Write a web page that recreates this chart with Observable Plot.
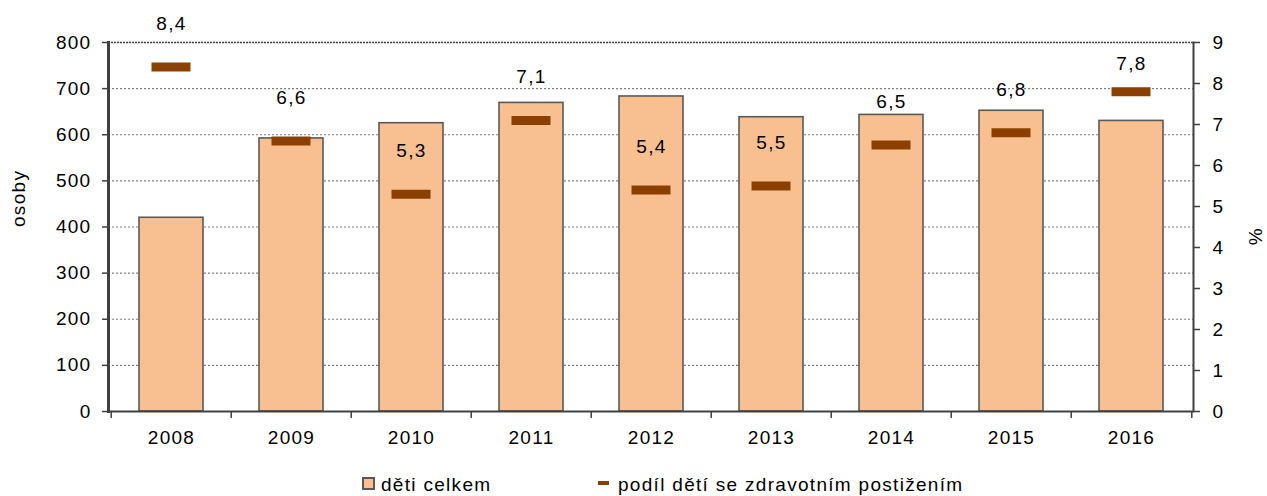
<!DOCTYPE html>
<html>
<head>
<meta charset="utf-8">
<script src="https://cdn.jsdelivr.net/npm/d3@7"></script>
<script src="https://cdn.jsdelivr.net/npm/@observablehq/plot@0.6"></script>
<style>
  html, body { margin: 0; padding: 0; background: #fff; }
  #wrap { position: relative; width: 1267px; height: 496px; font-family: "Liberation Sans", Arial, sans-serif; }
  #legend { position: absolute; left: 0; top: 474px; width: 1267px; height: 22px; font-size: 19px; color: #000; }
  .li { position: absolute; top: 0; white-space: nowrap; letter-spacing: 1.3px; }
  .sw { display: inline-block; width: 9px; height: 9px; background: #f8c090; border: 2px solid #595959; vertical-align: middle; margin-right: 6px; position: relative; top: -2px; }
  .dash { display: inline-block; width: 11px; height: 4px; background: #8b4000; vertical-align: middle; margin-right: 9px; position: relative; top: -3px; }
  svg text { letter-spacing: 1.3px; }
</style>
</head>
<body>
<div id="wrap">
  <div id="chart"></div>
  <div id="legend">
    <div class="li" style="left:362px"><span class="sw"></span>děti celkem</div>
    <div class="li" style="left:598px"><span class="dash"></span>podíl dětí se zdravotním postižením</div>
  </div>
</div>
<script>
const years = ["2008","2009","2010","2011","2012","2013","2014","2015","2016"];
const children = [420, 592, 625, 669, 683, 638, 643, 652, 630];
const sharePct = [8.4, 6.6, 5.3, 7.1, 5.4, 5.5, 6.5, 6.8, 7.8];
const leftTicks = [0,100,200,300,400,500,600,700,800];
const rightTicks = [0,1,2,3,4,5,6,7,8,9];
const leftMax = 800, rightMax = 9;

const toLeft = v => v * leftMax / rightMax;
const data = years.map((y, i) => ({year: y, total: children[i], pct: sharePct[i], pctY: toLeft(sharePct[i])}));
const lastYear = years[years.length - 1];
const fmt = d => d.pct.toFixed(1).replace(".", ",");

const W = 1267, ML = 108, MR = 74;
const step = (W - ML - MR) / years.length;
const font = "Liberation Sans, Arial, sans-serif";
const chart = Plot.plot({
  width: W,
  height: 466,
  marginLeft: ML,
  marginRight: MR,
  marginTop: 42,
  marginBottom: 55,
  style: {fontFamily: font, fontSize: "19px", color: "#000", background: "#fff"},
  x: {domain: years, paddingInner: 0.47, paddingOuter: 0.235, label: null},
  y: {domain: [0, leftMax], label: null},
  marks: [
    Plot.gridY(leftTicks.slice(1, -1), {stroke: "#808080", strokeOpacity: 1, strokeDasharray: "2,2", strokeWidth: 1.2}),
    Plot.barY(data, {x: "year", y: "total", fill: "#f8c090", stroke: "#595959", strokeWidth: 1.6}),
    Plot.tickY(data, {x: "year", y: "pctY", stroke: "#8b4000", strokeWidth: 9, insetLeft: 12.5, insetRight: 12.5}),
    Plot.text(data.filter(d => d.year !== lastYear), {x: "year", y: "pctY", text: fmt, dy: -43, fontSize: 19, fill: "#000"}),
    Plot.text(data.filter(d => d.year === lastYear), {x: "year", y: "pctY", text: fmt, dy: -28, fontSize: 19, fill: "#000"}),
    Plot.axisY(leftTicks, {anchor: "left", tickSize: 6, tickPadding: 11, fontSize: 19, stroke: "#404040", strokeWidth: 1.5, label: null}),
    Plot.axisY(rightTicks.map(toLeft), {anchor: "right", tickSize: 6, tickPadding: 13, fontSize: 19, stroke: "#404040", strokeWidth: 1.5, tickFormat: d => String(Math.round(d * rightMax / leftMax)), label: null}),
    Plot.axisX({anchor: "bottom", tickSize: 0, tickPadding: 19, fontSize: 19, label: null}),
    Plot.ruleY([0], {stroke: "#404040", strokeWidth: 2}),
    Plot.ruleY([leftMax], {stroke: "#404040", strokeWidth: 1.5, strokeDasharray: "2,1"}),
    Plot.frame({anchor: "left", stroke: "#404040", strokeWidth: 3}),
    Plot.frame({anchor: "right", stroke: "#404040", strokeWidth: 2}),
    Plot.ruleX(years, {x: d => d, dx: -step / 2, y1: 0, y2: 0, insetBottom: -7, stroke: "#404040", strokeWidth: 1.5}),
    Plot.ruleX([lastYear], {x: d => d, dx: step / 2, y1: 0, y2: 0, insetBottom: -7, stroke: "#404040", strokeWidth: 1.5}),
    Plot.text(["osoby"], {frameAnchor: "left", dx: -90, rotate: -90, fontSize: 19, fill: "#000"}),
    Plot.text(["%"], {frameAnchor: "right", dx: 62, rotate: -90, fontSize: 19, fill: "#000"})
  ]
});
document.getElementById("chart").appendChild(chart);
</script>
</body>
</html>
